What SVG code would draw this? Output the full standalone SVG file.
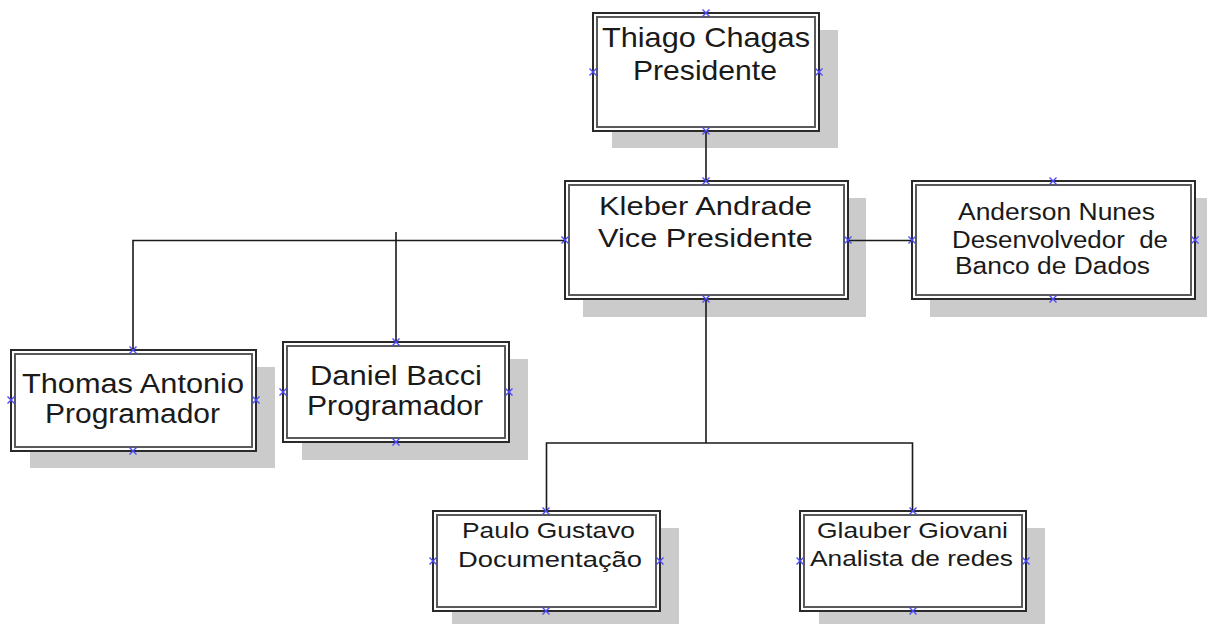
<svg xmlns="http://www.w3.org/2000/svg" width="1207" height="624" viewBox="0 0 1207 624">
<defs>
<style>
.sh{fill:#cbcbcb}
.ob{fill:#fff;stroke:#2a2a2a;stroke-width:2}
.ib{fill:none;stroke:#5a5a5a;stroke-width:2}
.t{font-family:"Liberation Sans",Arial,sans-serif;fill:#1a1a1a;text-anchor:start}
.c{fill:none;stroke:#1a1a1a;stroke-width:1.6}
.m{stroke:#4a4aff;stroke-width:1.4;fill:none}
</style>
<path id="x" class="m" d="M-3.5,-3.5L3.5,3.5M-3.5,3.5L3.5,-3.5"/>
</defs>
<rect width="1207" height="624" fill="#fff"/>
<g id="thiago">
<rect class="sh" x="612" y="30" width="226" height="118"/>
<rect class="ob" x="593" y="13" width="226" height="118"/>
<rect class="ib" x="597" y="17" width="218" height="110"/>
<text class="t" font-size="28" x="602" y="47" textLength="208" lengthAdjust="spacingAndGlyphs">Thiago Chagas</text>
<text class="t" font-size="28" x="633" y="80" textLength="144" lengthAdjust="spacingAndGlyphs">Presidente</text>
<use href="#x" x="706" y="13"/><use href="#x" x="706" y="131"/><use href="#x" x="593" y="72"/><use href="#x" x="819" y="72"/>
</g>
<g id="kleber">
<rect class="sh" x="583" y="198" width="283" height="119"/>
<rect class="ob" x="565" y="181" width="283" height="118"/>
<rect class="ib" x="569" y="185" width="275" height="110"/>
<text class="t" font-size="26" x="599" y="215" textLength="213" lengthAdjust="spacingAndGlyphs">Kleber Andrade</text>
<text class="t" font-size="26" x="598" y="247" textLength="215" lengthAdjust="spacingAndGlyphs">Vice Presidente</text>
<use href="#x" x="706" y="181"/><use href="#x" x="706" y="299"/><use href="#x" x="565" y="240"/><use href="#x" x="848" y="240"/>
</g>
<g id="anderson">
<rect class="sh" x="930" y="198" width="283" height="119"/>
<rect class="ob" x="912" y="181" width="283" height="118"/>
<rect class="ib" x="916" y="185" width="275" height="110"/>
<text class="t" font-size="23.5" x="958" y="220" textLength="197" lengthAdjust="spacingAndGlyphs">Anderson Nunes</text>
<text class="t" font-size="23.5" x="952" y="248" textLength="216" lengthAdjust="spacingAndGlyphs" xml:space="preserve">Desenvolvedor  de</text>
<text class="t" font-size="23.5" x="955" y="274" textLength="195" lengthAdjust="spacingAndGlyphs">Banco de Dados</text>
<use href="#x" x="1053" y="181"/><use href="#x" x="1053" y="299"/><use href="#x" x="912" y="240"/><use href="#x" x="1195" y="240"/>
</g>
<g id="thomas">
<rect class="sh" x="30" y="367" width="245" height="101"/>
<rect class="ob" x="11" y="350" width="245" height="101"/>
<rect class="ib" x="15" y="354" width="237" height="93"/>
<text class="t" font-size="27" x="22" y="393" textLength="222" lengthAdjust="spacingAndGlyphs">Thomas Antonio</text>
<text class="t" font-size="27" x="45" y="423" textLength="175" lengthAdjust="spacingAndGlyphs">Programador</text>
<use href="#x" x="133" y="350"/><use href="#x" x="133" y="451"/><use href="#x" x="11" y="400"/><use href="#x" x="256" y="400"/>
</g>
<g id="daniel">
<rect class="sh" x="302" y="359" width="226" height="101"/>
<rect class="ob" x="283" y="342" width="226" height="100"/>
<rect class="ib" x="287" y="346" width="218" height="92"/>
<text class="t" font-size="27" x="310" y="385" textLength="172" lengthAdjust="spacingAndGlyphs">Daniel Bacci</text>
<text class="t" font-size="27" x="307" y="415" textLength="176" lengthAdjust="spacingAndGlyphs">Programador</text>
<use href="#x" x="396" y="342"/><use href="#x" x="396" y="442"/><use href="#x" x="283" y="392"/><use href="#x" x="509" y="392"/>
</g>
<g id="paulo">
<rect class="sh" x="452" y="528" width="227" height="101"/>
<rect class="ob" x="433" y="511" width="227" height="100"/>
<rect class="ib" x="437" y="515" width="219" height="92"/>
<text class="t" font-size="22.5" x="462" y="538" textLength="173" lengthAdjust="spacingAndGlyphs">Paulo Gustavo</text>
<text class="t" font-size="22.5" x="458" y="567" textLength="184" lengthAdjust="spacingAndGlyphs">Documentação</text>
<use href="#x" x="546" y="511"/><use href="#x" x="546" y="611"/><use href="#x" x="433" y="561"/><use href="#x" x="660" y="561"/>
</g>
<g id="glauber">
<rect class="sh" x="819" y="528" width="226" height="101"/>
<rect class="ob" x="800" y="511" width="226" height="100"/>
<rect class="ib" x="804" y="515" width="218" height="92"/>
<text class="t" font-size="22.5" x="817" y="538" textLength="191" lengthAdjust="spacingAndGlyphs">Glauber Giovani</text>
<text class="t" font-size="22.5" x="810" y="566" textLength="203" lengthAdjust="spacingAndGlyphs">Analista de redes</text>
<use href="#x" x="913" y="511"/><use href="#x" x="913" y="611"/><use href="#x" x="800" y="561"/><use href="#x" x="1026" y="561"/>
</g>
<g id="connectors">
<path class="c" d="M706,132V180"/>
<path class="c" d="M564,240.5H133V349"/>
<path class="c" d="M396,232V341"/>
<path class="c" d="M849,240.5H911"/>
<path class="c" d="M706,300V443H546.5V510M706,443H912.5V510"/>
</g>
</svg>
